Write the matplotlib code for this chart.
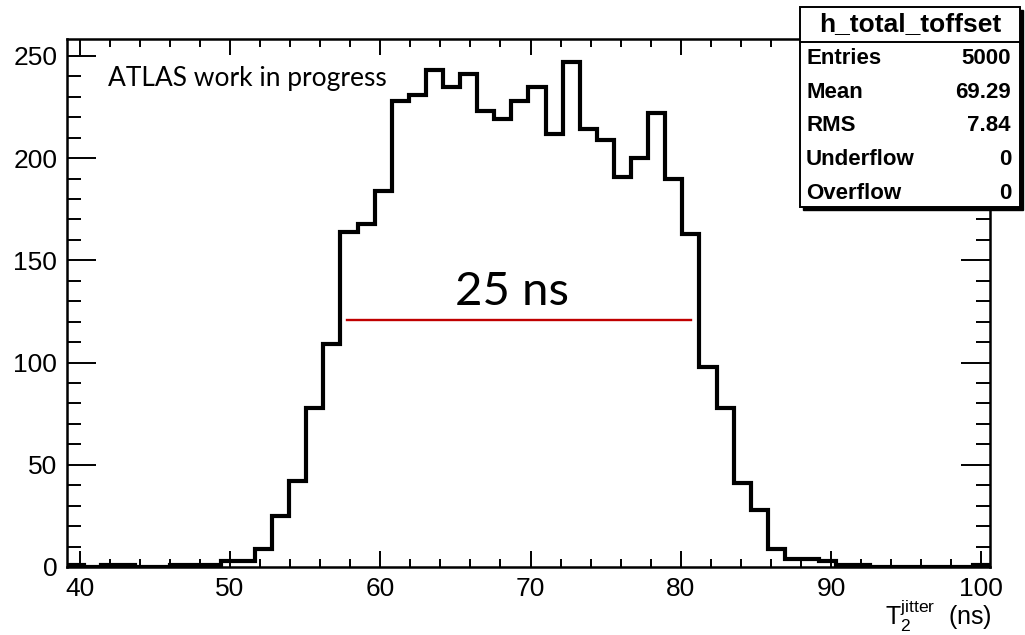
#!/usr/bin/env python3

import matplotlib
matplotlib.use("Agg")
import matplotlib.pyplot as plt
from matplotlib.patches import Rectangle
from matplotlib.lines import Line2D
from matplotlib.ticker import MultipleLocator
import numpy as np

# h_total_toffset: 54 equal bins over the frame range
x_lo, x_hi, n_bins = 39.15, 100.58, 54
counts = [
    1, 0, 1, 1, 0, 0, 1, 1, 1, 3, 3, 9, 25, 42, 78, 109,
    164, 168, 184, 228, 231, 243, 235, 241, 223, 219, 228, 235, 212, 247,
    214, 209, 191, 200, 222, 190, 163,
    98, 78, 41, 28, 9, 4, 4, 3, 1, 1, 0, 0, 0, 0, 0, 0, 1,
]
y_max = 258.5

stats_title = "h_total_toffset"
stats_names = ["Entries", "Mean", "RMS", "Underflow", "Overflow"]
stats_values = ["5000", "69.29", "7.84", "0", "0"]

# "25 ns" width marker
width_x = [57.79, 80.68]
width_y = 120.8

W, H = 1025, 635
plt.rcParams["font.family"] = ["Liberation Sans", "DejaVu Sans"]
plt.rcParams["mathtext.default"] = "regular"


def fx(px):
    return px / W


def fy(py):
    # pixel rows measured from the top
    return 1 - py / H


fig = plt.figure(figsize=(W / 100, H / 100), dpi=100)
ax = fig.add_axes([fx(67), fy(567), fx(990) - fx(67), fy(38.5) - fy(567)])

edges = np.linspace(x_lo, x_hi, n_bins + 1)
ax.stairs(counts, edges, color="black", lw=3.0, baseline=0)
ax.plot(width_x, [width_y, width_y], color="#c00000", lw=1.7)

ax.set_xlim(x_lo, x_hi)
ax.set_ylim(0, y_max)
ax.xaxis.set_major_locator(MultipleLocator(10))
ax.xaxis.set_minor_locator(MultipleLocator(2))
ax.yaxis.set_major_locator(MultipleLocator(50))
ax.yaxis.set_minor_locator(MultipleLocator(10))
ax.tick_params(which="both", direction="in", top=True, right=True,
               width=1.4, labelsize=19, pad=7)
ax.tick_params(axis="x", which="major", length=11.5)
ax.tick_params(axis="x", which="minor", length=6)
ax.tick_params(axis="y", which="major", length=21)
ax.tick_params(axis="y", which="minor", length=10)
for s in ax.spines.values():
    s.set_linewidth(1.8)

fig.text(fx(992), fy(625.5), r"$\mathregular{T_{2}^{jitter}}$  (ns)",
         ha="right", va="baseline", fontsize=18)

fig.text(fx(108), fy(86), "ATLAS work in progress", family="Lato",
         fontsize=19, ha="left", va="baseline")
fig.text(fx(512), fy(305), "25 ns", family="Lato", fontsize=34,
         ha="center", va="baseline")

# stats box with shadow
bx0, bx1, by0, by1 = 800, 1020, 7, 207
fig.add_artist(Rectangle((fx(bx0 + 3), fy(by1 + 3)), fx(bx1) - fx(bx0),
                         fy(by0) - fy(by1), transform=fig.transFigure,
                         facecolor="black", edgecolor="black", zorder=10))
fig.add_artist(Rectangle((fx(bx0), fy(by1)), fx(bx1) - fx(bx0),
                         fy(by0) - fy(by1), transform=fig.transFigure,
                         facecolor="white", edgecolor="black", lw=1.4,
                         zorder=11))
fig.add_artist(Line2D([fx(bx0), fx(bx1)], [fy(41.7), fy(41.7)],
                      transform=fig.transFigure, color="black", lw=1.4,
                      zorder=12))
fig.text(fx((bx0 + bx1) / 2), fy(24.5), stats_title, ha="center",
         va="center", fontsize=19, weight="bold", zorder=13)
for i, (name, val) in enumerate(zip(stats_names, stats_values)):
    yy = fy(58.5 + i * 33.7)
    fig.text(fx(806), yy, name, ha="left", va="center", fontsize=16,
             weight="bold", zorder=13)
    fig.text(fx(1011), yy, val, ha="right", va="center", fontsize=16,
             weight="bold", zorder=13)

fig.savefig("out.png", dpi=100)
